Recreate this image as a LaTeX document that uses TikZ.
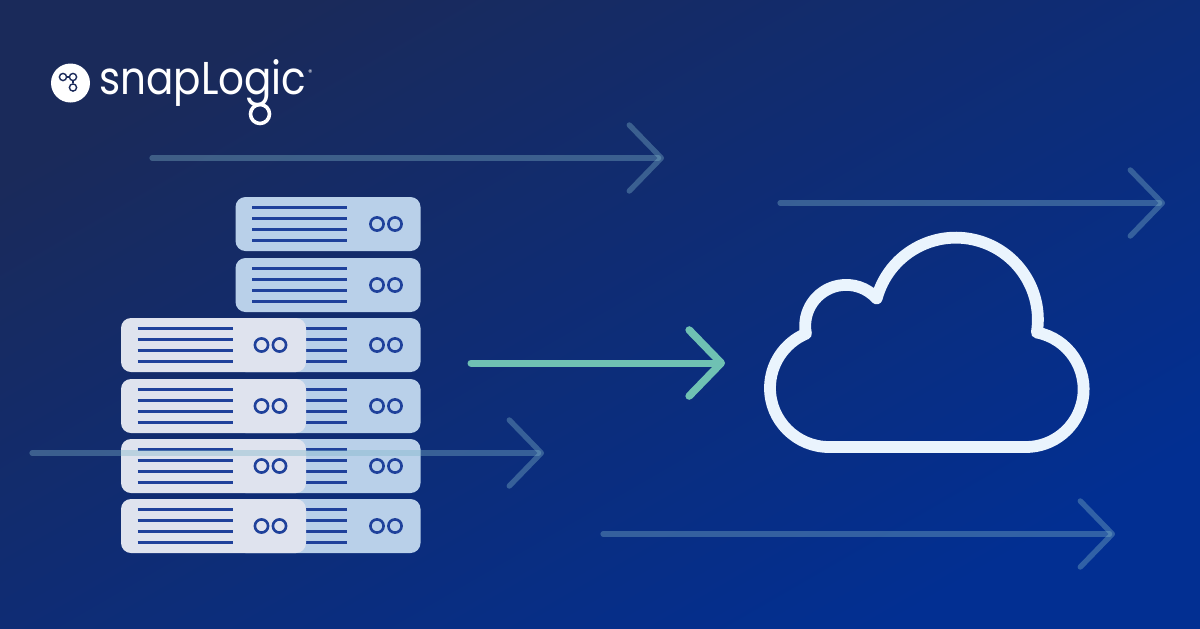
\documentclass[tikz,border=0pt]{standalone}
\usepackage{fontspec}
\newfontfamily\logofont{Poppins}
\usetikzlibrary{arrows.meta,positioning,calc}
\definecolor{navytop}{HTML}{1A2A5A}
\definecolor{bluebottom}{HTML}{022F92}
\definecolor{rackback}{HTML}{B9D0E9}
\definecolor{rackfront}{HTML}{DFE3EE}
\definecolor{rackline}{HTML}{1F419B}
\definecolor{flowgreen}{HTML}{6FC1B3}
\definecolor{flowfaint}{HTML}{7FB4C8}
\definecolor{cloudline}{HTML}{EAF4FD}
\tikzset{
	backrack/.style={rectangle,rounded corners=5pt,fill=rackback,minimum width=92.5pt,minimum height=27pt,inner sep=0pt},
	frontrack/.style={rectangle,rounded corners=5pt,fill=rackfront,minimum width=92.5pt,minimum height=27pt,inner sep=0pt},
	rackbar/.style={rackline,line width=1.6pt},
	rackport/.style={draw=rackline,line width=1.3pt,circle,inner sep=0pt,minimum size=6.6pt},
	logodot/.style={draw=navytop,circle,line width=0.7pt,inner sep=0pt,minimum size=3.6pt},
	faintflow/.style={flowfaint,opacity=0.38,transparency group,line width=2.6pt,line cap=round,-{Straight Barb[length=16pt,width=33pt,round,line width=2.7pt]}},
	greenflow/.style={flowgreen,line width=3.5pt,line cap=round,-{Straight Barb[length=16pt,width=33pt,round,line width=3.8pt]}}
}
\begin{document}
\begin{tikzpicture}[x=0.5pt,y=0.5pt]
	\useasboundingbox (0,0) rectangle (1200,-628);
	\shade[shading=axis,left color=navytop,right color=bluebottom,shading angle=30] (0,0) rectangle (1200,-628);

	% back column
	\foreach \i/\y in {1/224,2/285,3/345,4/406,5/466,6/526}{
		\node[backrack] (back\i) at (328,-\y) {};
		\foreach \d in {-16.5,-5.5,5.5,16.5}{
			\draw[rackbar] ($(back\i.center)+(-76,\d)$) -- ($(back\i.center)+(19,\d)$);
		}
		\node[rackport] (backa\i) at ($(back\i.center)+(49,0)$) {};
		\node[rackport] (backb\i) at ($(back\i.center)+(67,0)$) {};
	}
	% front column
	\foreach \i/\y in {3/345,4/406,5/466,6/526}{
		\node[frontrack] (front\i) at (213.5,-\y) {};
		\foreach \d in {-16.5,-5.5,5.5,16.5}{
			\draw[rackbar] ($(front\i.center)+(-76,\d)$) -- ($(front\i.center)+(19,\d)$);
		}
		\node[rackport] (fronta\i) at ($(front\i.center)+(48,0)$) {};
		\node[rackport] (frontb\i) at ($(front\i.center)+(66,0)$) {};
	}

	% arrows
	\coordinate (a1) at (152,-158);
	\coordinate (b1) at (664,-158);
	\coordinate (a2) at (780,-203);
	\coordinate (b2) at (1165,-203);
	\coordinate (a3) at (32,-453);
	\coordinate (b3) at (544,-453);
	\coordinate (a4) at (603,-534);
	\coordinate (b4) at (1115,-534);
	\coordinate (a5) at (471,-363);
	\coordinate (b5) at (725,-363);
	\draw[faintflow] (a1) -- (b1);
	\draw[faintflow] (a2) -- (b2);
	\draw[faintflow] (a3) -- (b3);
	\draw[faintflow] (a4) -- (b4);
	\draw[greenflow] (a5) -- (b5);

	% cloud
	\draw[cloudline,line width=5.9pt,line join=round] (829,-447)
		arc[start angle=270,end angle=113,radius=59]
		arc[start angle=191,end angle=42,radius=41]
		arc[start angle=165,end angle=-9,radius=82]
		arc[start angle=79,end angle=-90,radius=57.8]
		-- cycle;

	% logo
	\node[circle,fill=white,minimum size=19.5pt,inner sep=0pt] (badge) at (70.5,-83) {};
	\node[logodot] (dota) at (63,-77) {};
	\node[logodot] (dotb) at (73,-77) {};
	\node[logodot] (dotc) at (73,-87.5) {};
	\draw[navytop,line width=0.7pt] (dota) -- (dotb);
	\draw[navytop,line width=0.7pt] (dotb) -- (dotc);
	\node[anchor=base west,inner sep=0pt,text=white,xscale=0.88,transform shape,font=\logofont\fontsize{23}{23}\selectfont] (brand) at (99,-94) {snapLogic};
	\node[anchor=west,inner sep=0pt,text=white,font=\logofont\fontsize{4}{4}\selectfont] (mark) at (308,-73) {®};
	\node[draw=white,circle,line width=1.8pt,inner sep=0pt,minimum size=9.5pt] (ring) at (260,-114) {};
\end{tikzpicture}
\end{document}
